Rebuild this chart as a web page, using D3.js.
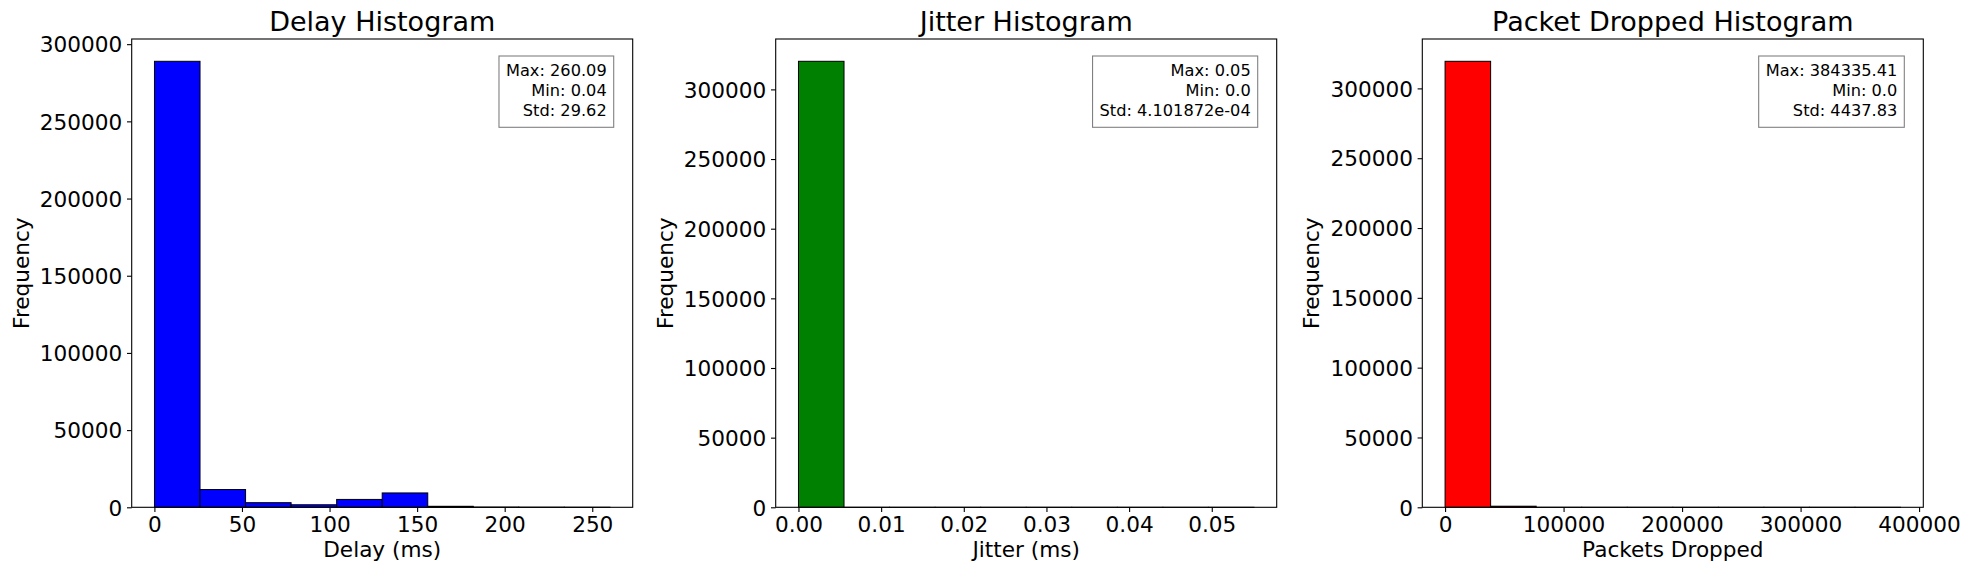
<!DOCTYPE html>
<html>
<head>
<meta charset="utf-8">
<script src="https://cdn.jsdelivr.net/npm/d3@7"></script>
<style>
  html, body { margin: 0; padding: 0; background: #fff; }
  svg { display: block; font-family: "DejaVu Sans", sans-serif; }
</style>
</head>
<body>
<div id="chart"></div>
<script>
// histogram counts (10 bins each)
const delayEdges   = [0.04, 26.045, 52.05, 78.055, 104.06, 130.065, 156.07, 182.075, 208.08, 234.085, 260.09];
const delayCounts  = [288900, 11500, 3000, 1650, 5100, 9300, 650, 150, 80, 40];
const jitterEdges  = [0, 0.00551, 0.01102, 0.01653, 0.02204, 0.02755, 0.03306, 0.03857, 0.04408, 0.04959, 0.0551];
const jitterCounts = [320170, 12, 6, 4, 3, 2, 1, 1, 1, 1];
const dropEdges    = [0, 38433.5, 76867.1, 115300.6, 153734.2, 192167.7, 230601.2, 269034.8, 307468.3, 345901.9, 384335.4];
const dropCounts   = [319400, 780, 20, 6, 3, 2, 1, 1, 1, 1];

const titles   = ["Delay Histogram", "Jitter Histogram", "Packet Dropped Histogram"];
const xLabels  = ["Delay (ms)", "Jitter (ms)", "Packets Dropped"];
const colors   = ["#0000ff", "#008000", "#ff0000"];
const xTicks   = [[0, 50, 100, 150, 200, 250],
                  [0, 0.01, 0.02, 0.03, 0.04, 0.05],
                  [0, 100000, 200000, 300000, 400000]];
const yTicks   = [0, 50000, 100000, 150000, 200000, 250000, 300000];
const statLines = [
  ["Max: 260.09", "Min: 0.04", "Std: 29.62"],
  ["Max: 0.05", "Min: 0.0", "Std: 4.101872e-04"],
  ["Max: 384335.41", "Min: 0.0", "Std: 4437.83"]
];

const W = 1971, H = 572;
const axLeft = [131.7, 775.7, 1422.3];
const axW = 501, axTop = 39, axBottom = 507.3;
const TICK_FS = 21.6, TITLE_FS = 27, STAT_FS = 16.2;

const svg = d3.select("#chart").append("svg")
  .attr("width", W).attr("height", H);

function panel(i, edges, counts, xFmt){
  const x0 = axLeft[i], x1 = x0 + axW;
  const lo = edges[0], hi = edges[edges.length - 1], m = (hi - lo) * 0.05;
  const x = d3.scaleLinear().domain([lo - m, hi + m]).range([x0, x1]);
  const y = d3.scaleLinear().domain([0, d3.max(counts) * 1.05]).range([axBottom, axTop]);

  const bins = counts.map((c, k) => ({ a: edges[k], b: edges[k + 1], c }));
  const g = svg.append("g");

  // bars
  g.append("g").selectAll("rect")
    .data(bins).join("rect")
      .attr("x", d => x(d.a))
      .attr("y", d => y(d.c))
      .attr("width", d => x(d.b) - x(d.a))
      .attr("height", d => axBottom - y(d.c))
      .attr("fill", colors[i])
      .attr("stroke", "#000")
      .attr("stroke-width", 1);

  // axes
  const gx = g.append("g")
    .attr("transform", `translate(0,${axBottom})`)
    .call(d3.axisBottom(x).tickValues(xTicks[i]).tickFormat(xFmt).tickSize(4.7).tickPadding(4));
  gx.select(".domain").remove();
  gx.selectAll(".tick line").attr("stroke", "#000").attr("stroke-width", 1.1);
  gx.selectAll("text").attr("font-size", TICK_FS).attr("font-family", "DejaVu Sans")
    .attr("fill", "#000").attr("dy", "0.76em");

  const gy = g.append("g")
    .attr("transform", `translate(${x0},0)`)
    .call(d3.axisLeft(y).tickValues(yTicks).tickFormat(d3.format("d")).tickSize(4.7).tickPadding(4.7));
  gy.select(".domain").remove();
  gy.selectAll(".tick line").attr("stroke", "#000").attr("stroke-width", 1.1);
  gy.selectAll("text").attr("font-size", TICK_FS).attr("font-family", "DejaVu Sans")
    .attr("fill", "#000").attr("dy", "0.36em");

  // frame
  g.append("rect")
    .attr("x", x0).attr("y", axTop)
    .attr("width", axW).attr("height", axBottom - axTop)
    .attr("fill", "none").attr("stroke", "#000").attr("stroke-width", 1.1);

  // title + labels
  const cx = x0 + axW / 2;
  g.append("text").attr("x", cx).attr("y", 31)
    .attr("text-anchor", "middle").attr("font-size", TITLE_FS).text(titles[i]);
  g.append("text").attr("x", cx).attr("y", 557)
    .attr("text-anchor", "middle").attr("font-size", TICK_FS).text(xLabels[i]);
  g.append("text")
    .attr("transform", `translate(${x0 - 103},${(axTop + axBottom) / 2}) rotate(-90)`)
    .attr("text-anchor", "middle").attr("font-size", TICK_FS).text("Frequency");

  // stats box
  const boxR = x1 - 19, boxT = axTop + 17;
  const box = g.append("rect");
  const txt = g.append("g");
  statLines[i].forEach((s, k) => {
    txt.append("text")
      .attr("x", boxR - 7).attr("y", boxT + 20 + k * 20)
      .attr("text-anchor", "end").attr("font-size", STAT_FS).text(s);
  });
  const bb = txt.node().getBBox();
  box.attr("x", bb.x - 7).attr("y", boxT)
    .attr("width", bb.width + 14).attr("height", 71.3)
    .attr("fill", "#fff").attr("stroke", "#808080").attr("stroke-width", 1.1);
}

panel(0, delayEdges, delayCounts, d3.format("d"));
panel(1, jitterEdges, jitterCounts, d3.format(".2f"));
panel(2, dropEdges, dropCounts, d3.format("d"));
</script>
</body>
</html>
